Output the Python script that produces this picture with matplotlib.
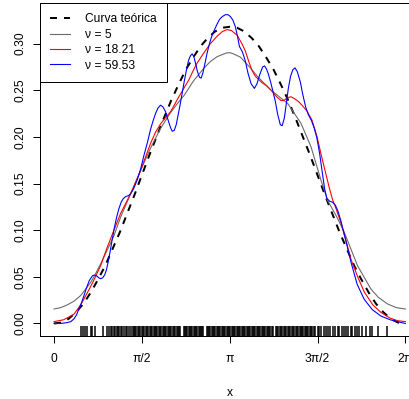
import numpy as np
import matplotlib
matplotlib.use("Agg")
import matplotlib.pyplot as plt
from matplotlib.lines import Line2D

plt.rcParams['font.family'] = ['Liberation Sans', 'DejaVu Sans']

# ---------------- data ----------------
theo_half = [0.000, 0.001, 0.005, 0.012, 0.021, 0.033, 0.047, 0.062, 0.080, 0.098,
             0.118, 0.138, 0.159, 0.180, 0.200, 0.220, 0.239, 0.256, 0.272, 0.285,
             0.297, 0.306, 0.313, 0.317, 0.318]
theo_y = theo_half + theo_half[-2::-1]
theo_x = np.linspace(0, 2 * np.pi, len(theo_y))

gray_x = [0.000, 0.120, 0.239, 0.360, 0.477, 0.580, 0.655, 0.714, 0.834, 0.953, 1.071,
          1.191, 1.369, 1.548, 1.726, 1.905, 2.083, 2.262, 2.321, 2.494, 2.678, 2.800,
          2.917, 3.000, 3.083, 3.150, 3.208, 3.333, 3.511, 3.642, 3.881, 4.177, 4.416,
          4.595, 4.773, 4.891, 5.050, 5.189, 5.427, 5.666, 5.800, 5.962, 6.120, 6.283]
gray_y = [0.0155, 0.017, 0.020, 0.024, 0.030, 0.038, 0.044, 0.050, 0.064, 0.079, 0.094,
          0.114, 0.139, 0.164, 0.188, 0.209, 0.226, 0.240, 0.244, 0.260, 0.2735, 0.281,
          0.286, 0.288, 0.290, 0.2903, 0.289, 0.2855, 0.274, 0.2645, 0.250, 0.236, 0.2146,
          0.1895, 0.1538, 0.132, 0.115, 0.098, 0.062, 0.037, 0.028, 0.021, 0.017, 0.0155]

red_x = [0.000, 0.173, 0.357, 0.477, 0.596, 0.709, 0.834, 0.941, 1.071, 1.191, 1.310,
         1.369, 1.450, 1.548, 1.640, 1.726, 1.815, 1.905, 2.000, 2.083, 2.150, 2.203,
         2.262, 2.340, 2.410, 2.480, 2.547, 2.678, 2.797, 2.917, 3.011, 3.095, 3.172,
         3.274, 3.368, 3.422, 3.481, 3.542, 3.600, 3.720, 3.800, 3.899, 3.980, 4.060,
         4.110, 4.170, 4.240, 4.300, 4.370, 4.434, 4.520, 4.613, 4.700, 4.773, 4.850,
         4.920, 4.980, 5.050, 5.130, 5.220, 5.309, 5.430, 5.546, 5.700, 5.844, 6.000,
         6.141, 6.283]
red_y = [0.002, 0.004, 0.010, 0.020, 0.033, 0.046, 0.062, 0.080, 0.100, 0.118, 0.132,
         0.139, 0.150, 0.164, 0.179, 0.193, 0.205, 0.214, 0.221, 0.227, 0.234, 0.240,
         0.246, 0.254, 0.261, 0.270, 0.278, 0.290, 0.300, 0.308, 0.313, 0.315, 0.314,
         0.309, 0.299, 0.292, 0.281, 0.271, 0.265, 0.258, 0.255, 0.249, 0.243, 0.239,
         0.239, 0.242, 0.243, 0.241, 0.238, 0.234, 0.228, 0.218, 0.201, 0.182, 0.163,
         0.146, 0.133, 0.122, 0.108, 0.089, 0.069, 0.050, 0.034, 0.020, 0.012, 0.006,
         0.003, 0.002]

blue_x = [0.000, 0.120, 0.239, 0.300, 0.357, 0.400, 0.441, 0.490, 0.536, 0.580, 0.630,
          0.685, 0.720, 0.760, 0.800, 0.834, 0.870, 0.905, 0.935, 0.965, 1.000, 1.040,
          1.080, 1.120, 1.160, 1.200, 1.240, 1.281, 1.330, 1.369, 1.420, 1.489, 1.550,
          1.607, 1.670, 1.726, 1.770, 1.815, 1.860, 1.905, 1.950, 1.994, 2.040, 2.083,
          2.115, 2.150, 2.185, 2.214, 2.250, 2.292, 2.330, 2.369, 2.405, 2.440, 2.470,
          2.500, 2.530, 2.565, 2.600, 2.630, 2.660, 2.700, 2.738, 2.780, 2.815, 2.870,
          2.917, 2.960, 3.010, 3.065, 3.110, 3.154, 3.200, 3.243, 3.280, 3.315, 3.370,
          3.422, 3.470, 3.524, 3.583, 3.630, 3.680, 3.731, 3.765, 3.797, 3.830, 3.868,
          3.910, 3.958, 4.000, 4.047, 4.080, 4.118, 4.150, 4.190, 4.230, 4.270, 4.310,
          4.350, 4.404, 4.450, 4.500, 4.547, 4.600, 4.650, 4.700, 4.750, 4.797, 4.840,
          4.880, 4.930, 4.980, 5.030, 5.080, 5.130, 5.180, 5.230, 5.309, 5.421, 5.546,
          5.689, 5.844, 6.010, 6.141, 6.283]
blue_y = [0.000, 0.000, 0.001, 0.002, 0.005, 0.009, 0.015, 0.022, 0.030, 0.038, 0.046,
          0.051, 0.052, 0.051, 0.049, 0.048, 0.049, 0.052, 0.057, 0.065, 0.076, 0.090,
          0.103, 0.114, 0.123, 0.130, 0.134, 0.136, 0.137, 0.139, 0.144, 0.154, 0.166,
          0.180, 0.194, 0.208, 0.217, 0.225, 0.231, 0.234, 0.232, 0.227, 0.218, 0.210,
          0.206, 0.207, 0.213, 0.222, 0.233, 0.247, 0.260, 0.272, 0.282, 0.287, 0.289,
          0.286, 0.279, 0.270, 0.264, 0.263, 0.268, 0.279, 0.290, 0.300, 0.307, 0.315,
          0.321, 0.326, 0.329, 0.331, 0.331, 0.329, 0.325, 0.318, 0.308, 0.297, 0.291,
          0.281, 0.268, 0.257, 0.252, 0.257, 0.267, 0.275, 0.276, 0.273, 0.268, 0.260,
          0.250, 0.238, 0.224, 0.213, 0.212, 0.220, 0.234, 0.252, 0.265, 0.272, 0.274,
          0.270, 0.259, 0.245, 0.232, 0.224, 0.218, 0.210, 0.199, 0.182, 0.162, 0.144,
          0.134, 0.131, 0.130, 0.127, 0.120, 0.110, 0.098, 0.086, 0.066, 0.042, 0.026,
          0.015, 0.008, 0.004, 0.002, 0.000]

rug_x = [0.489, 0.518, 0.553, 0.596, 0.655, 0.685, 0.732, 0.875, 0.953, 0.982, 1.012,
         1.042, 1.071, 1.096, 1.119, 1.142, 1.167, 1.191, 1.214, 1.250, 1.280, 1.310,
         1.339, 1.369, 1.405, 1.428,
         1.45, 1.47, 1.50, 1.52, 1.54, 1.57, 1.59, 1.61, 1.64, 1.66, 1.68, 1.71, 1.73,
         1.75, 1.78, 1.80, 1.82, 1.85, 1.87, 1.89, 1.92, 1.94, 1.96, 1.99, 2.01, 2.03,
         2.06, 2.08, 2.10, 2.13, 2.15, 2.17, 2.20, 2.22, 2.24, 2.26, 2.32, 2.34, 2.36,
         2.38, 2.41, 2.43, 2.45, 2.47, 2.50, 2.52, 2.54, 2.56, 2.59, 2.61, 2.63, 2.65,
         2.67, 2.73, 2.75, 2.77, 2.79, 2.82, 2.84, 2.86, 2.88, 2.91, 2.93, 2.95, 2.97,
         3.00, 3.02, 3.04, 3.06, 3.09, 3.11, 3.13, 3.15, 3.18, 3.20, 3.22, 3.24, 3.27,
         3.29, 3.31, 3.33, 3.36, 3.38, 3.40, 3.42, 3.45, 3.47, 3.49, 3.51, 3.54, 3.56,
         3.58, 3.60, 3.63, 3.65, 3.67, 3.69, 3.72, 3.74, 3.76, 3.78, 3.81, 3.83, 3.85,
         3.87, 3.90, 3.92, 3.97, 3.99, 4.01, 4.04, 4.06, 4.08, 4.11, 4.13, 4.15, 4.18,
         4.20, 4.22, 4.25, 4.27, 4.29, 4.32, 4.34, 4.36, 4.39, 4.41, 4.43, 4.46, 4.48,
         4.50, 4.53, 4.55, 4.57, 4.60, 4.62, 4.65, 4.67, 4.72,
         4.742, 4.773, 4.832, 4.862, 4.904, 4.939, 4.980, 5.023, 5.070, 5.100, 5.141,
         5.177, 5.220, 5.261, 5.309, 5.337, 5.386, 5.427, 5.457, 5.516, 5.577, 5.648,
         5.684, 5.802, 5.951]

xtick_vals = [0, np.pi / 2, np.pi, 3 * np.pi / 2, 2 * np.pi]
xtick_labels = ["0", "π/2", "π", "3π/2", "2π"]
ytick_vals = [0.00, 0.05, 0.10, 0.15, 0.20, 0.25, 0.30]
ytick_labels = ["0.00", "0.05", "0.10", "0.15", "0.20", "0.25", "0.30"]
legend_labels = ["Curva teórica", "ν = 5", "ν = 18.21", "ν = 59.53"]

# ---------------- figure ----------------
W, H = 409, 399
fig = plt.figure(figsize=(W / 72, H / 72), dpi=72)
ax = fig.add_axes([40 / W, (H - 335.7) / H, 379.4 / W, 332.4 / H])

ax.plot(theo_x, theo_y, color="black", lw=2, linestyle=(0, (3.5, 3.5)),
        dash_capstyle="butt")
ax.plot(gray_x, gray_y, color="#6a6a6a", lw=1.1, solid_joinstyle="round")
ax.plot(red_x, red_y, color="#ff0000", lw=1.1, solid_joinstyle="round")
ax.plot(blue_x, blue_y, color="#0000ff", lw=1.1, solid_joinstyle="round")

ax.vlines(rug_x, 0, 0.03, transform=ax.get_xaxis_transform(),
          color="black", lw=1.5, antialiased=True)

ax.set_xlim(-0.251, 6.534)
ax.set_ylim(-0.0131, 0.3432)

ax.set_xticks(xtick_vals)
ax.set_xticklabels(xtick_labels)
ax.set_yticks(ytick_vals)
ax.set_yticklabels(ytick_labels, rotation=90, va="center")
ax.tick_params(axis="both", direction="out", length=7, width=1, labelsize=12,
               colors="black")
ax.tick_params(axis="x", pad=10)
ax.tick_params(axis="y", pad=7)

for s in ax.spines.values():
    s.set_linewidth(1)
    s.set_color("black")

ax.set_xlabel("x", fontsize=12, labelpad=22)

handles = [
    Line2D([], [], color="black", lw=2, linestyle=(0, (3.5, 3.5))),
    Line2D([], [], color="#6a6a6a", lw=1.1),
    Line2D([], [], color="#ff0000", lw=1.1),
    Line2D([], [], color="#0000ff", lw=1.1),
]
leg = ax.legend(handles, legend_labels, loc="upper left", bbox_to_anchor=(0, 1),
                borderaxespad=0, fontsize=12, frameon=True, fancybox=False,
                framealpha=1, edgecolor="black", handlelength=1.67,
                handletextpad=1.25, borderpad=0.85, labelspacing=0.28)
leg.get_frame().set_linewidth(1)

fig.savefig("out.png", dpi=72)
